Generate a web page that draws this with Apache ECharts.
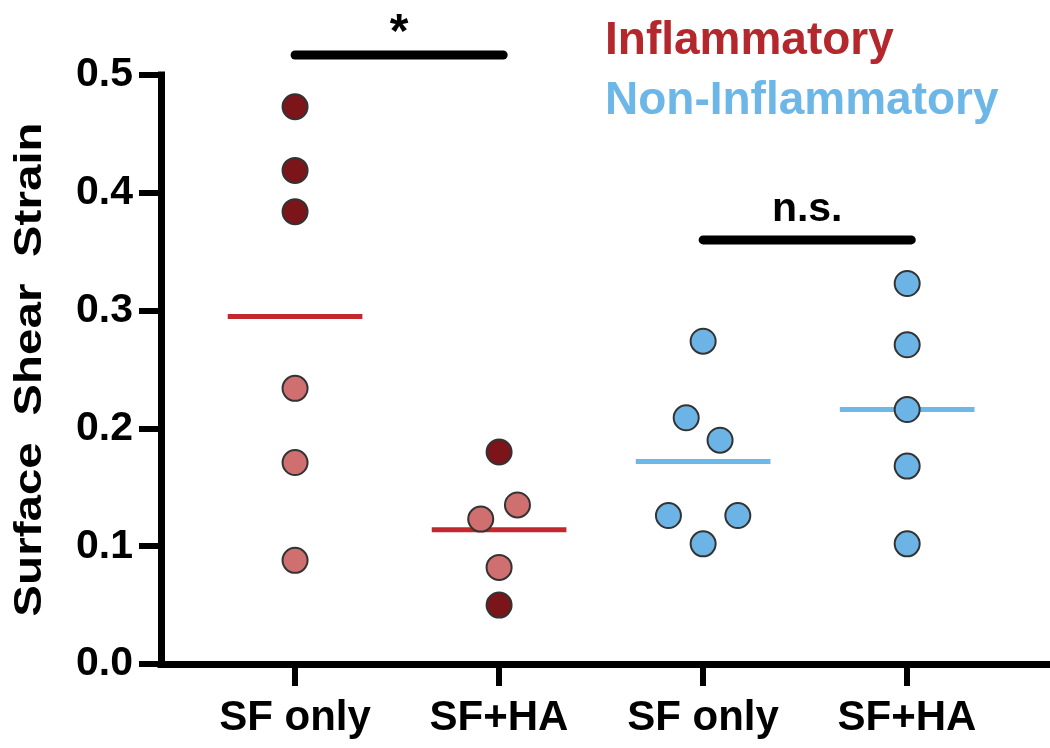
<!DOCTYPE html>
<html>
<head>
<meta charset="utf-8">
<script src="https://cdn.jsdelivr.net/npm/echarts@6/dist/echarts.min.js"></script>
<style>
html,body{margin:0;padding:0;background:#fff;}
#c{width:1050px;height:748px;}
</style>
</head>
<body>
<div id="c"></div>
<script>
// ---- data ----
const categories = ['SF only', 'SF+HA', 'SF only', 'SF+HA'];
const yTickValues = [0, 0.1, 0.2, 0.3, 0.4, 0.5];

// Inflammatory, SF only (group 1)
const inflSFonlyDark = [0.473, 0.419, 0.384];
const inflSFonlyLight = [0.234, 0.171, 0.088];
// Inflammatory, SF+HA (group 2)
const inflSFHADark = [0.180, 0.050];
const inflSFHALight = [0.135, 0.123, 0.082];
const inflSFHALightJitter = [0.09, -0.09, 0];
// Non-inflammatory, SF only (group 3)
const nonSFonly = [0.274, 0.209, 0.190, 0.126, 0.126, 0.102];
const nonSFonlyJitter = [0, -0.083, 0.083, -0.17, 0.17, 0];
// Non-inflammatory, SF+HA (group 4)
const nonSFHA = [0.323, 0.271, 0.216, 0.168, 0.102];
// group means
const groupMeans = [0.295, 0.114, 0.172, 0.216];
// significance annotations
const sigLabels = ['*', 'n.s.'];
const sigGroups = [[1, 2], [3, 4]];
const sigLevels = [0.517, 0.36];
const legendLabels = ['Inflammatory', 'Non-Inflammatory'];
const yAxisTitle = 'Surface  Shear  Strain';

// ---- styling ----
const FONT = '"Liberation Sans", Arial, Helvetica, sans-serif';
const DARK_RED = '#7b151a';
const LIGHT_RED = '#cf6f70';
const BLUE = '#6cb4e6';
const RED_LINE = '#c3282e';
const BLUE_LINE = '#6db8e8';
const EDGE = '#333';

function pts(x, vals, jit) {
  return vals.map((v, i) => [x + (jit ? jit[i] : 0), v]);
}
function meanSeg(i) {
  const x = i + 1;
  return [[x - 0.33, groupMeans[i]], [x + 0.33, groupMeans[i]]];
}

const chart = echarts.init(document.getElementById('c'), null, {renderer: 'canvas'});

const scatterBase = {
  type: 'scatter', xAxisIndex: 0, yAxisIndex: 0, symbolSize: 25, z: 5,
  itemStyle: {borderColor: EDGE, borderWidth: 2, opacity: 1}
};

const series = [];
for (let i = 0; i < 4; i++) {
  series.push({
    type: 'line', xAxisIndex: 0, yAxisIndex: 0, data: meanSeg(i), symbol: 'none', z: 3,
    lineStyle: {color: i < 2 ? RED_LINE : BLUE_LINE, width: 5}, silent: true
  });
}
series.push(Object.assign({}, scatterBase, {data: pts(1, inflSFonlyDark), itemStyle: Object.assign({}, scatterBase.itemStyle, {color: DARK_RED})}));
series.push(Object.assign({}, scatterBase, {data: pts(1, inflSFonlyLight), itemStyle: Object.assign({}, scatterBase.itemStyle, {color: LIGHT_RED})}));
series.push(Object.assign({}, scatterBase, {data: pts(2, inflSFHADark), itemStyle: Object.assign({}, scatterBase.itemStyle, {color: DARK_RED})}));
series.push(Object.assign({}, scatterBase, {data: pts(2, inflSFHALight, inflSFHALightJitter), itemStyle: Object.assign({}, scatterBase.itemStyle, {color: LIGHT_RED})}));
series.push(Object.assign({}, scatterBase, {data: pts(3, nonSFonly, nonSFonlyJitter), itemStyle: Object.assign({}, scatterBase.itemStyle, {color: BLUE})}));
series.push(Object.assign({}, scatterBase, {data: pts(4, nonSFHA), itemStyle: Object.assign({}, scatterBase.itemStyle, {color: BLUE})}));

const GRID_TOP = 75, GRID_BOTTOM = 84, AXIS_X = 161;
const option = {
  animation: false,
  backgroundColor: '#fff',
  grid: [
    {left: AXIS_X, right: 0, top: GRID_TOP, bottom: GRID_BOTTOM},
    {left: 193, width: 816, top: GRID_TOP, bottom: GRID_BOTTOM}
  ],
  xAxis: [
    {
      gridIndex: 0, type: 'value', min: 0.343, max: 4.70,
      axisLine: {show: true, onZero: false, lineStyle: {color: '#000', width: 7, cap: 'square'}},
      axisTick: {show: false}, axisLabel: {show: false}, splitLine: {show: false}
    },
    {
      gridIndex: 1, type: 'category', data: categories, boundaryGap: true,
      axisLine: {show: false},
      axisTick: {show: true, alignWithLabel: true, length: 22, lineStyle: {color: '#000', width: 6}},
      axisLabel: {margin: 33, color: '#000', fontFamily: FONT, fontWeight: 'bold', fontSize: 42},
      splitLine: {show: false}
    }
  ],
  yAxis: [
    {
      gridIndex: 0, type: 'value', min: 0, max: 0.5, interval: 0.1,
      axisLine: {show: true, lineStyle: {color: '#000', width: 7, cap: 'square'}},
      axisTick: {show: true, length: 22, lineStyle: {color: '#000', width: 6}},
      axisLabel: {margin: 28, color: '#000', fontFamily: FONT, fontWeight: 'bold', fontSize: 41,
        formatter: v => yTickValues.some(t => Math.abs(t - v) < 1e-9) ? v.toFixed(1) : ''},
      splitLine: {show: false}
    },
    {gridIndex: 1, type: 'value', min: 0, max: 0.5, show: false}
  ],
  series: series
};
chart.setOption(option);

// ---- annotations positioned via the chart's own scales ----
const graphics = [];
sigGroups.forEach((g, i) => {
  const p1 = chart.convertToPixel({gridIndex: 0}, [g[0], sigLevels[i]]);
  const p2 = chart.convertToPixel({gridIndex: 0}, [g[1] + 0.02, sigLevels[i]]);
  graphics.push({type: 'line', shape: {x1: p1[0], y1: p1[1], x2: p2[0], y2: p2[1]},
    style: {stroke: '#000', lineWidth: 9, lineCap: 'round'}, z: 10});
  graphics.push({type: 'text', x: (p1[0] + p2[0]) / 2, y: p1[1] - (i === 0 ? -3 : 10),
    style: {text: sigLabels[i], fill: '#000', font: 'bold ' + (i === 0 ? 48 : 41) + 'px ' + FONT,
      textAlign: 'center', textVerticalAlign: 'bottom'}, z: 10});
});
// y-axis title, centred on the axis via the chart's scale
const yMid = chart.convertToPixel({gridIndex: 0}, [0.343, 0.25]);
graphics.push({type: 'text', x: 30, y: yMid[1], rotation: Math.PI / 2, scaleX: 1.16, scaleY: 0.96,
  style: {text: yAxisTitle, fill: '#000', font: 'bold 41px ' + FONT, textAlign: 'center', textVerticalAlign: 'middle'}, z: 10});
graphics.push({type: 'text', left: 605, top: 18,
  style: {text: legendLabels[0], fill: '#b3272d', font: 'bold 46px ' + FONT}, z: 10});
graphics.push({type: 'text', left: 605, top: 78,
  style: {text: legendLabels[1], fill: '#6db6e8', font: 'bold 46px ' + FONT}, z: 10});
chart.setOption({graphic: graphics});
</script>
</body>
</html>
